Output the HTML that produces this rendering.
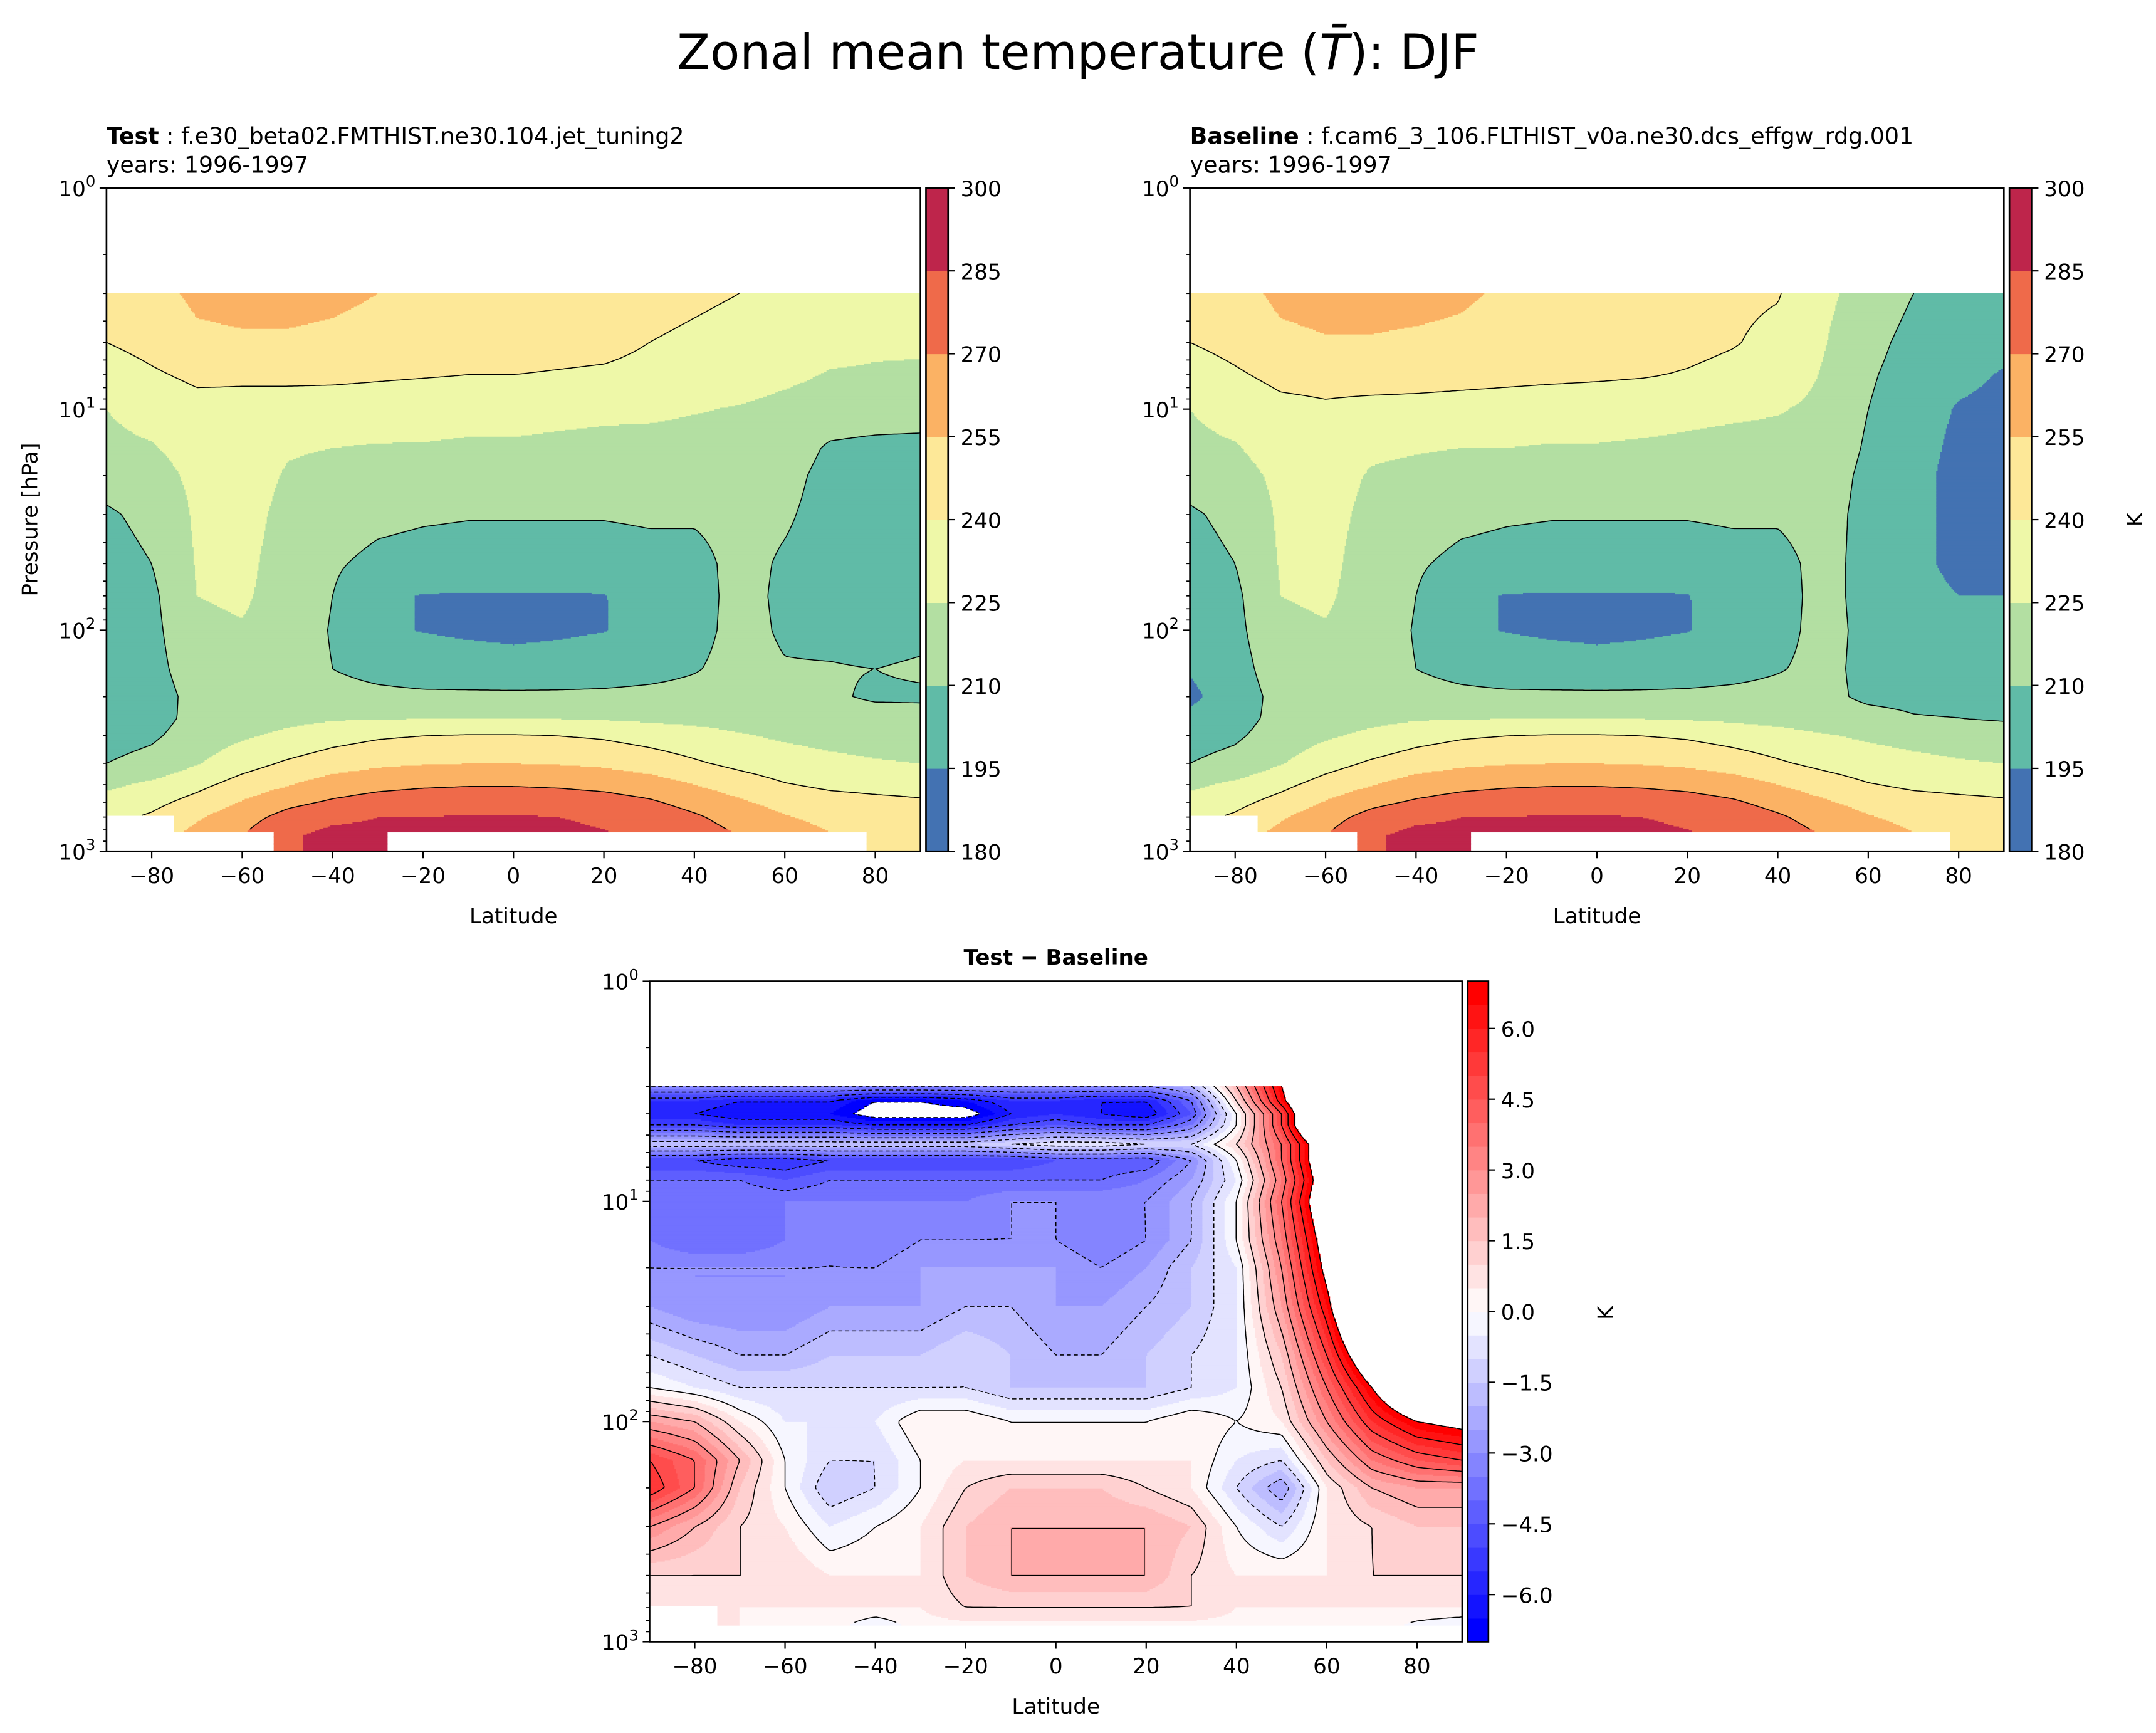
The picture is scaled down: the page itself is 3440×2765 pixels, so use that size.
<!DOCTYPE html>
<html><head><meta charset="utf-8"><style>
html,body{margin:0;padding:0;background:#fff;}
svg{display:block;font-family:"DejaVu Sans","Liberation Sans",sans-serif;}
</style></head><body>
<svg id="fig" xmlns="http://www.w3.org/2000/svg" width="3440" height="2765" viewBox="0 0 1560 1254">
<rect x="0" y="0" width="1560" height="1254" fill="#fff"/>
<text x="780" y="50" font-size="35" text-anchor="middle">Zonal mean temperature (<tspan font-style="italic">T̄</tspan>): DJF</text>
<text x="77" y="104" font-size="16.5"><tspan font-weight="bold">Test</tspan> : f.e30_beta02.FMTHIST.ne30.104.jet_tuning2</text>
<text x="77" y="125" font-size="16.5">years: 1996-1997</text>
<text x="861" y="104" font-size="16.5"><tspan font-weight="bold">Baseline</tspan> : f.cam6_3_106.FLTHIST_v0a.ne30.dcs_effgw_rdg.001</text>
<text x="861" y="125" font-size="16.5">years: 1996-1997</text>
<text x="764" y="698" font-size="15.5" font-weight="bold" text-anchor="middle">Test − Baseline</text>
<g id="layer"></g>
</svg>
<script>
const lats=[-90,-80,-70,-60,-50,-40,-30,-20,-10,0,10,20,30,40,50,60,70,80,90];
const presT=[3,5,7,10,15,20,30,50,70,100,150,200,250,300,400,500,600,700,850];
const testT=[
[245,250,258,260,260,258,255,250,248,247,246,245,244,242,240,238,236,235,235],
[240,245,252,253,253,252,250,248,247,246,245,244,240,238,236,233,230,228,227],
[232,238,243,242,243,243,242,241,240,240,239,238,236,234,232,228,224,223,223],
[225,230,235,236,234,233,232,231,230,230,229,228,228,226,224,221,219,218,218],
[222,224,230,232,226,225,224,224,223,223,222,221,220,219,218,218,208,206,205],
[216,220,228,230,224,222,220,220,219,219,219,218,218,217,216,215,205,203,203],
[208,214,227,229,222,218,214,212,211,211,211,211,212,212,215,212,204,202,202],
[204,210,226,228,220,212,206,204,203,203,203,203,205,205,215,208,203,201,201],
[203,207,225,227,219,210,197,194.5,194,194,194,194.5,201,204,215,207,204,202,202],
[203,206,222,224,218,209,197,194.5,193,192,193,194.5,200,205,215,208,206,204,206],
[202,205,218,220,217,210,205,202,201,200,201,203,205,209,215,211,211,210,212],
[198,203,215,218,218,216,214,213,213,213,213,213,214,215,215,215,212,208,208],
[200,205,214,219,221,223,224,224,224,224,224,223,222,221,220,219,217,216,215],
[205,208,216,223,228,234,238,240,241,241,240,238,234,230,226,223,221,220,219],
[210,214,224,234,242,248,252,254,255,255,254,252,248,242,236,231,228,226,225],
[222,228,236,246,254,262,266,268,269,269,268,266,262,255,248,241,237,235,234],
[230,236,245,256,266,272,276,278,279,279,278,276,272,265,257,250,246,244,242],
[236,242,253,264,275,282,285,285,286,286,285,283,279,272,264,256,251,248,246],
[240,248,260,270,283,289,288,286,288,289,288,286,283,277,270,262,256,252,250]];
const baseT=[
[245,250,258,260,260,259,257,253,250,249,248,246,243,241,228,220,210,205,205],
[240,245,252,254,254,253,252,250,248,247,246,244,241,236,226,215,205,200,199],
[232,238,244,245,246,246,245,244,243,242,241,239,236,233,224,212,203,198,194],
[225,230,236,238,236,235,234,233,232,232,231,229,228,226,222,210,201,194,192],
[222,224,231,232,227,226,225,225,224,224,223,222,220,220,220,208,200,192,190],
[216,220,228,230,224,222,220,220,219,219,219,218,218,218,218,206,199,191,189],
[208,214,227,229,222,218,214,212,211,211,211,211,212,212,216,205,199,191,189],
[204,210,226,228,220,212,206,204,203,203,203,203,205,205,215,205,198,192,192],
[202,207,225,227,219,210,197,194.5,194,194,194,194.5,201,204,215,205,199,195,195],
[200,206,222,224,218,209,197,194.5,193,192,193,194.5,200,205,215,206,201,197,198],
[196,204,218,220,217,210,205,202,201,200,201,203,205,209,214,206,203,200,201],
[192,202,215,218,218,216,214,213,213,213,213,213,214,215,214,207,206,205,205],
[198,205,214,219,221,223,224,224,224,224,224,223,222,220,218,215,211,210,208],
[205,208,216,223,228,234,238,240,241,241,240,238,234,230,226,223,221,220,219],
[210,214,224,234,242,248,252,254,255,255,254,252,248,242,236,231,228,226,225],
[222,228,236,246,254,262,266,268,269,269,268,266,262,255,248,241,237,235,234],
[230,236,245,256,266,272,276,278,279,279,278,276,272,265,257,250,246,244,242],
[236,242,253,264,275,282,285,285,286,286,285,283,279,272,264,256,251,248,246],
[240,248,260,270,283,289,288,286,288,289,288,286,283,277,270,262,256,252,250]];
const presD=[3,3.5,4,4.5,5.5,6.5,8,10,15,20,30,50,70,100,150,200,300,500,700,850];
const diffT=[
[-3,-3,-3,-3,-3,-3,-3,-3,-3,-3,-3,-3,-2,2,7,12,12,12,12],
[-5.5,-5.5,-6,-6,-6,-7,-7,-6.5,-5.5,-5.5,-6,-6,-4,1,6.5,12,12,12,12],
[-6,-6,-6.5,-6.5,-6.5,-7.5,-7.5,-7.5,-6,-5.5,-6,-6.5,-4.5,0,5,12,12,12,12],
[-5,-5,-5.5,-5.5,-5.5,-6,-6,-6,-5,-4.5,-5,-5,-3.5,0,5,12,12,12,12],
[-1.5,-1.5,-1.5,-1.5,-1.5,-1.5,-1.5,-1.5,-1,-0.5,-0.5,-1,-1,1,4,9,12,12,12],
[-5,-5,-5.5,-5.5,-5,-5,-5,-5,-5,-4.5,-4.5,-4.5,-3,0,4,9,12,12,12],
[-4,-4,-4,-4.5,-4,-4,-4,-4,-4,-4,-4,-3.5,-2.5,-0.5,3.5,8.5,12,12,12],
[-3.5,-3.5,-3.5,-3.5,-3.5,-3.5,-3.5,-3.5,-3,-3,-3,-3,-2,0,4,9,12,12,12],
[-3.5,-4,-4,-3.5,-3,-3.5,-3,-3,-3,-3,-3.5,-3,-2,0,3.5,8,12,12,12],
[-3,-3,-3,-3,-3,-3,-2.5,-2.5,-2.5,-2.5,-3,-2.5,-1.5,-0.5,3,7.5,12,12,12],
[-2.5,-3,-3,-3,-2.5,-2.5,-2.5,-2,-2,-2.5,-2.5,-2,-1.5,-0.5,2.5,6.5,12,12,12],
[-1,-1.5,-2,-2,-1.5,-1.5,-1.5,-1,-1.5,-2,-2,-1.5,-1,-0.5,1.5,5,9,12,12],
[0,-0.5,-1,-1,-1,-1,-1,-1,-1.5,-1.5,-1.5,-1.5,-1,-0.5,1,4,7,10,12],
[2.5,2,0.5,-0.5,-0.5,-0.5,0.5,0.5,0,0,0,0,0.5,0,0.5,3,5.5,7,7.5],
[5,4,2,0,-1,-1,0,0.5,0.5,0.5,0.5,0.5,0.5,-0.5,-1,1.5,3.5,4.5,5],
[5.5,4,1.5,0,-1.5,-1,0,1,1.5,1.5,1.5,1,0.5,-1,-2.5,0.5,2,2.5,2.5],
[3,2,1,0.5,-0.5,0,0.5,1.5,2,2,2,2,1.5,0,-1,0.5,1,1.5,1.5],
[1,1,1,1,0.5,0.5,0.5,1.5,2,2,2,2,1,0.5,0.5,0.5,1,1,1],
[0.5,0.5,0.5,0.5,0.5,0.5,0.5,1,1,1,1,1,1,0.5,0.5,0.5,0.5,0.5,0.5],
[0.5,0.5,0.5,0.3,0.3,-0.5,0.3,0.3,0.3,0.3,0.3,0.3,0.3,0.3,0.3,0.3,0.3,-0.2,-0.5]];
const tempTicks=[180,195,210,225,240,255,270,285,300];
const tempColors=['#4372b2','#60bba7','#b3dfa2','#eef8a8','#fde898','#fbb264','#ef6a4a','#be254b'];
const tempLines=[210,240,270];
const diffTicks=[-6,-4.5,-3,-1.5,0,1.5,3,4.5,6];
const diffLines=[-7,-6,-5,-4,-3,-2,-1,0,1,2,3,4,5,6,7];
const latTicks=[-80,-60,-40,-20,0,20,40,60,80];

const NS='http://www.w3.org/2000/svg';
const layer=document.getElementById('layer');
function mk(tag,attrs,parent){const e=document.createElementNS(NS,tag);for(const k in attrs)e.setAttribute(k,attrs[k]);(parent||layer).appendChild(e);return e;}
function bwr(t){let r,g,b;if(t<0.5){r=g=2*t;b=1;}else{r=1;g=b=2*(1-t);}return 'rgb('+Math.round(r*255)+','+Math.round(g*255)+','+Math.round(b*255)+')';}
const diffColors=[];for(let i=0;i<28;i++)diffColors.push(bwr(i/27));

function interp(grid,P,lat,p){
  let fi=(lat-lats[0])/10;fi=Math.max(0,Math.min(lats.length-1.0001,fi));
  const i=Math.floor(fi),u=fi-i;
  const lp=Math.log(p);let k=0,t=0;
  if(p<=P[0]){k=0;t=0;}else if(p>=P[P.length-1]){k=P.length-2;t=1;}
  else{while(P[k+1]<p)k++;t=(lp-Math.log(P[k]))/(Math.log(P[k+1])-Math.log(P[k]));}
  const a=grid[k][i]*(1-u)+grid[k][i+1]*u, b=grid[k+1][i]*(1-u)+grid[k+1][i+1]*u;
  return a*(1-t)+b*t;
}
function chain(segs){
  const key=p=>p[0].toFixed(2)+','+p[1].toFixed(2);
  const map=new Map();
  segs.forEach((s,idx)=>{[0,1].forEach(e=>{const k=key(s[e]);if(!map.has(k))map.set(k,[]);map.get(k).push(idx);});});
  const used=new Array(segs.length).fill(false);
  let d='';
  const other=(idx,k)=>{const s=segs[idx];return key(s[0])===k?s[1]:s[0];};
  for(let s0=0;s0<segs.length;s0++){
    if(used[s0])continue;used[s0]=true;
    let line=[segs[s0][0],segs[s0][1]];
    for(let dir=0;dir<2;dir++){
      let cur=line[line.length-1];
      while(true){const k=key(cur);const cand=(map.get(k)||[]).find(i=>!used[i]);if(cand===undefined)break;used[cand]=true;cur=other(cand,k);line.push(cur);}
      line.reverse();
    }
    d+='M'+line.map(p=>p[0].toFixed(1)+' '+p[1].toFixed(1)).join('L');
  }
  return d;
}
function panel(cfg){
  const g=mk('g',{});
  
  
  const {x0,x1,yT,yB}=cfg;const dec=(yB-yT)/3;
  const yOf=p=>yT+dec*Math.log10(p);
  const xOf=l=>x0+(l+90)/180*(x1-x0);
  const ys=Math.round(yOf(cfg.P[0]));
  for(let y=ys;y<yB;y++){
    const p=Math.pow(10,(y+0.5-yT)/dec);
    let runStart=null,runIdx=null;
    const flush=(xe)=>{if(runIdx!==null){const r=mk('rect',{x:runStart,y:y,width:xe-runStart+0.4,height:1.3,fill:cfg.colors[runIdx]},g);
      
      }};
    for(let x=x0;x<x1;x++){
      const lat=-90+(x+0.5-x0)/(x1-x0)*180;
      let idx=null;
      if(p<=cfg.surf(lat)){const v=interp(cfg.grid,cfg.P,lat,p);
        const f=Math.floor((v-cfg.lmin)/cfg.step);if(f>=0&&f<cfg.colors.length)idx=f;}
      if(idx!==runIdx){flush(x);runStart=x;runIdx=idx;}
    }
    flush(x1);
  }
  const st=2;const nx=Math.ceil((x1-x0)/st)+1, ny=Math.ceil((yB-ys)/st)+1;
  const V=[];
  for(let j=0;j<ny;j++){const row=[];const y=Math.min(yB,ys+j*st);const p=Math.pow(10,(y-yT)/dec);
    for(let i=0;i<nx;i++){const x=Math.min(x1,x0+i*st);const lat=-90+(x-x0)/(x1-x0)*180;
      row.push(p<=cfg.surf(lat)?interp(cfg.grid,cfg.P,lat,p):NaN);}
    V.push(row);}
  const gx=i=>Math.min(x1,x0+i*st), gy=j=>Math.min(yB,ys+j*st);
  cfg.lines.forEach(L=>{
    const segs=[];
    for(let j=0;j<ny-1;j++)for(let i=0;i<nx-1;i++){
      const a=V[j][i],b=V[j][i+1],c=V[j+1][i+1],e=V[j+1][i];
      if(isNaN(a)||isNaN(b)||isNaN(c)||isNaN(e))continue;
      const pts=[];
      const cr=(v1,v2,xa,ya,xb,yb)=>{if((v1<L)!==(v2<L)){const t=(L-v1)/(v2-v1);pts.push([xa+(xb-xa)*t,ya+(yb-ya)*t]);}};
      cr(a,b,gx(i),gy(j),gx(i+1),gy(j));
      cr(b,c,gx(i+1),gy(j),gx(i+1),gy(j+1));
      cr(e,c,gx(i),gy(j+1),gx(i+1),gy(j+1));
      cr(a,e,gx(i),gy(j),gx(i),gy(j+1));
      for(let k=0;k+1<pts.length;k+=2)segs.push([pts[k],pts[k+1]]);
    }
    if(segs.length){const pa=mk('path',{d:chain(segs),fill:'none',stroke:'#000','stroke-width':0.7,'stroke-linejoin':'round','stroke-dasharray':(cfg.dashNeg&&L<0)?'3 2':'none'},g);
      
      }
  });
  const fr=mk('rect',{x:x0,y:yT,width:x1-x0,height:yB-yT,fill:'none',stroke:'#000','stroke-width':1.2},g);
  
  
  latTicks.forEach(l=>{const x=xOf(l);
    const tk=mk('line',{x1:x,x2:x,y1:yB,y2:yB+5,stroke:'#000','stroke-width':1},g);
    
    
    const tx=mk('text',{x:x,y:yB+23,'font-size':15.5,'text-anchor':'middle'},g);tx.textContent=(l<0?'−':'')+Math.abs(l);
    
    });
  for(let d=0;d<=3;d++){const y=yT+dec*d;
    const tk=mk('line',{x1:x0-5,x2:x0,y1:y,y2:y,stroke:'#000','stroke-width':1},g);
    
    
    const tx=mk('text',{x:x0-8,y:y+6,'font-size':15.5,'text-anchor':'end'},g);
    tx.innerHTML='10<tspan dy="-7" font-size="11">'+d+'</tspan>';
    
    
    if(d<3)for(let m=2;m<10;m++){const ym=y+dec*Math.log10(m);
      const mt=mk('line',{x1:x0-2.5,x2:x0,y1:ym,y2:ym,stroke:'#000','stroke-width':0.8},g);
      
      }}
  const xl=mk('text',{x:(x0+x1)/2,y:yB+52,'font-size':15.5,'text-anchor':'middle'},g);xl.textContent='Latitude';
  
  
  const cb=mk('g',{},g);
  
  
  const n=cfg.colors.length,bh=(yB-yT)/n;
  cfg.colors.forEach((c,i)=>{const r=mk('rect',{x:cfg.cbx,y:yB-(i+1)*bh,width:cfg.cbw,height:bh+0.3,fill:c},cb);
    
    });
  const cf=mk('rect',{x:cfg.cbx,y:yT,width:cfg.cbw,height:yB-yT,fill:'none',stroke:'#000','stroke-width':1.2},cb);
  
  
  const vmin=cfg.lmin,vmax=cfg.lmin+cfg.step*n;
  cfg.ticks.forEach(v=>{const y=yB-(v-vmin)/(vmax-vmin)*(yB-yT);
    const tk=mk('line',{x1:cfg.cbx+cfg.cbw,x2:cfg.cbx+cfg.cbw+5,y1:y,y2:y,stroke:'#000','stroke-width':1},cb);
    
    
    const tx=mk('text',{x:cfg.cbx+cfg.cbw+9,y:y+6,'font-size':15.5},cb);tx.textContent=cfg.fmt(v);
    
    });
  if(cfg.klabel){const k=mk('text',{x:cfg.klabel[0],y:cfg.klabel[1],'font-size':15.5,'text-anchor':'middle',transform:'rotate(-90 '+cfg.klabel[0]+' '+cfg.klabel[1]+')'},cb);k.textContent='K';
    
    }
}
const surfT=l=>l<-75?690:(l>-53&&l<-28)||l>78?1000:815;
const surfD=l=>l<-75?690:835;
panel({name:'test-panel',x0:77,x1:666,yT:136,yB:616,grid:testT,P:presT,lmin:180,step:15,colors:tempColors,lines:tempLines,dashNeg:false,surf:surfT,cbx:670,cbw:16,ticks:tempTicks,fmt:v=>String(v)});
panel({name:'baseline-panel',x0:861,x1:1450,yT:136,yB:616,grid:baseT,P:presT,lmin:180,step:15,colors:tempColors,lines:tempLines,dashNeg:false,surf:surfT,cbx:1454,cbw:16,ticks:tempTicks,fmt:v=>String(v),klabel:[1550,376]});
panel({name:'diff-panel',x0:470,x1:1058,yT:710,yB:1188,grid:diffT,P:presD,lmin:-7,step:0.5,colors:diffColors,lines:diffLines,dashNeg:true,surf:surfD,cbx:1062,cbw:15,ticks:diffTicks,fmt:v=>(v<0?'−':'')+Math.abs(v).toFixed(1),klabel:[1167,950]});
const yl=mk('text',{x:27,y:376,'font-size':15.5,'text-anchor':'middle',transform:'rotate(-90 27 376)'});yl.textContent='Pressure [hPa]';


</script>
</body></html>
